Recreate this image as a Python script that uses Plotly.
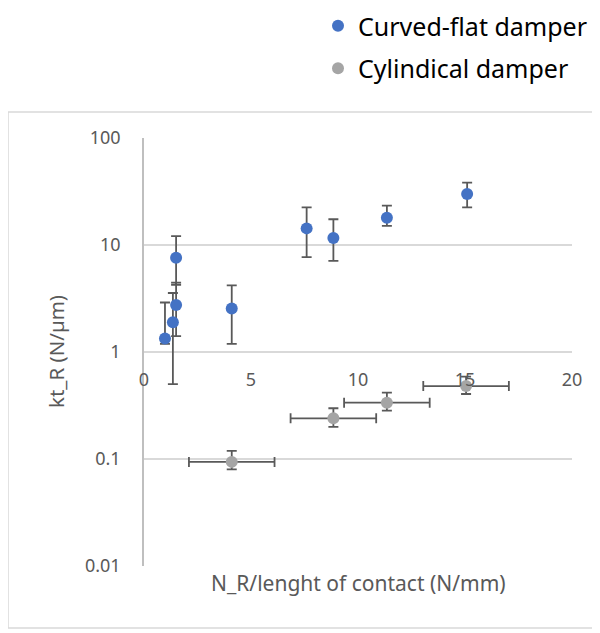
import plotly.graph_objects as go

# === Data ===
# Curved-flat damper
flat_x = [0.98, 1.35, 1.5, 1.5, 4.1, 7.6, 8.85, 11.35, 15.1]
flat_y = [1.34, 1.9, 2.75, 7.6, 2.55, 14.3, 11.6, 18.0, 30.0]
flat_err_plus = [1.56, 1.66, 1.7, 4.5, 1.65, 8.2, 5.8, 5.3, 8.2]
flat_err_minus = [0.15, 1.4, 1.34, 3.35, 1.36, 6.6, 4.5, 2.9, 7.5]

# Cylindical damper
cyl_x = [4.1, 8.85, 11.35, 15.05]
cyl_y = [0.094, 0.24, 0.336, 0.48]
cyl_err_plus = [0.025, 0.058, 0.081, 0.108]
cyl_err_minus = [0.014, 0.04, 0.053, 0.075]
cyl_xerr = [2, 2, 2, 2]

y_ticks = [0.01, 0.1, 1, 10, 100]
y_ticktext = ["0.01", "0.1", "1", "10", "100"]
x_ticks = [0, 5, 10, 15, 20]

FONT = "Noto Sans"
TXT = "#595959"
GRID = "#d9d9d9"
ERR = "#595959"

fig = go.Figure()

fig.add_trace(go.Scatter(
    x=flat_x, y=flat_y, mode="markers", name="Curved-flat damper",
    legendgroup="a",
    marker=dict(color="#4472C4", size=12),
    error_y=dict(type="data", symmetric=False, array=flat_err_plus,
                 arrayminus=flat_err_minus, color=ERR, thickness=1.8, width=5),
))

fig.add_trace(go.Scatter(
    x=cyl_x, y=cyl_y, mode="markers", name="Cylindical damper",
    legendgroup="b",
    marker=dict(color="#A5A5A5", size=12),
    error_y=dict(type="data", symmetric=False, array=cyl_err_plus,
                 arrayminus=cyl_err_minus, color=ERR, thickness=1.8, width=5),
    error_x=dict(type="data", array=cyl_xerr, color=ERR, thickness=1.8, width=5),
))

# page body has an 8px margin, so the figure is 8px smaller than the window
OFF = 8
W, H = 600 - OFF, 633 - OFF
L, T = 144 - OFF, 138 - OFF
R = W - (572 - OFF)
B = H - (566 - OFF)
pw, ph = W - L - R, H - T - B


def px(xr):
    # reference window x -> paper x
    return (xr - OFF - L) / pw


def py(yr):
    # reference window y -> paper y
    return (H - B - (yr - OFF)) / ph


fig.update_layout(
    width=W, height=H,
    margin=dict(l=L, r=R, t=T, b=B, autoexpand=False),
    paper_bgcolor="white", plot_bgcolor="white",
    font=dict(family=FONT, color=TXT, size=18),
    showlegend=True,
    legend=dict(
        x=px(318), y=py(3), xanchor="left", yanchor="top",
        font=dict(size=25, color="#000000"),
        tracegroupgap=7, bgcolor="rgba(0,0,0,0)",
    ),
    xaxis=dict(
        range=[0, 20], tickvals=x_ticks, showgrid=False, zeroline=False,
        showline=False, anchor="free", position=0.5,
        ticks="outside", ticklen=11, tickcolor="rgba(0,0,0,0)",
        tickfont=dict(size=18, color=TXT),
    ),
    yaxis=dict(
        type="log", range=[-2, 2], tickvals=y_ticks, ticktext=y_ticktext,
        showgrid=True, gridcolor=GRID, gridwidth=1.5,
        showline=True, linecolor="#bfbfbf", linewidth=1.5,
        zeroline=False, ticks="outside", ticklen=18,
        tickcolor="rgba(0,0,0,0)", tickfont=dict(size=18, color=TXT),
    ),
    annotations=[
        dict(text="N_R/lenght of contact (N/mm)", xref="paper", yref="paper",
             x=0.5, y=py(583), xanchor="center", yanchor="middle",
             showarrow=False, font=dict(size=21, color=TXT)),
        dict(text="kt_R (N/µm)", xref="paper", yref="paper",
             x=px(56), y=0.5, xanchor="center", yanchor="middle",
             textangle=-90, showarrow=False, font=dict(size=20.5, color=TXT)),
    ],
    shapes=[
        dict(type="rect", xref="paper", yref="paper",
             x0=px(8), x1=px(603), y0=py(628), y1=py(112),
             line=dict(color=GRID, width=1.5), layer="below"),
    ],
)

fig.write_html("out.html")
